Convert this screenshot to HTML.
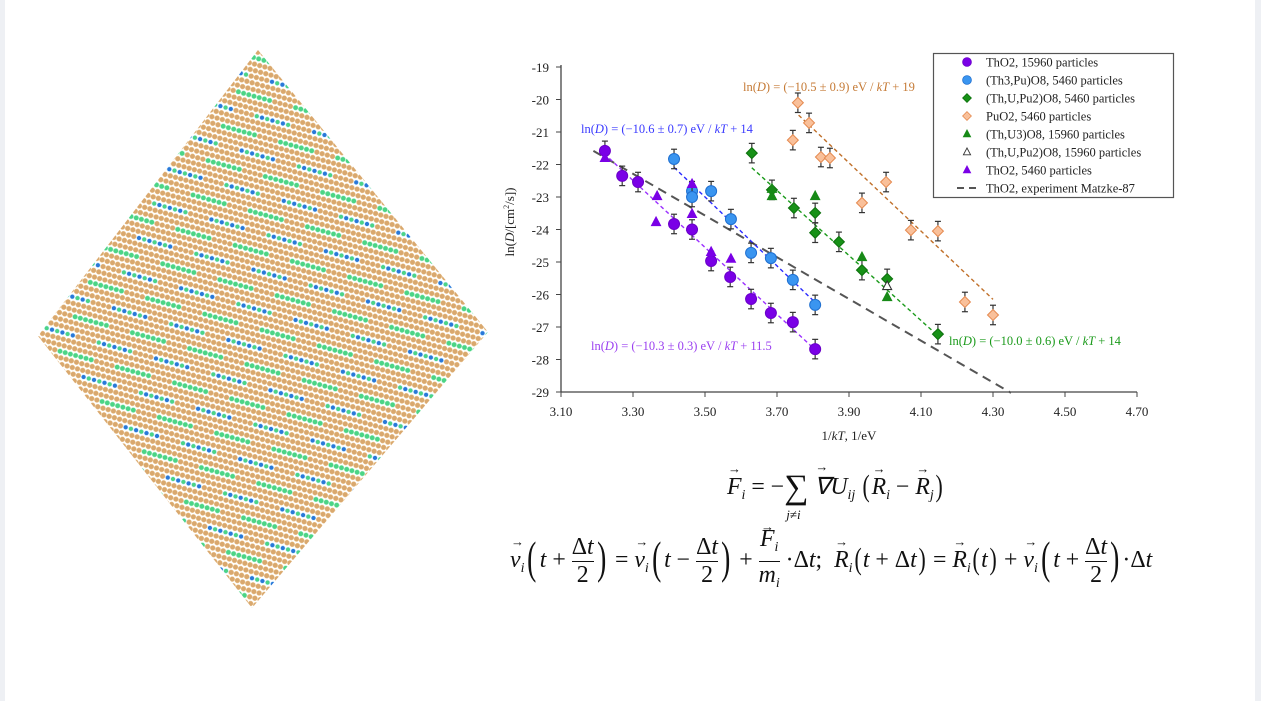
<!DOCTYPE html>
<html><head><meta charset="utf-8"><style>
html,body{margin:0;padding:0;background:#fff;}
body{width:1261px;height:701px;position:relative;overflow:hidden;font-family:"Liberation Serif",serif;}
.frameL{position:absolute;left:0;top:0;width:5px;height:701px;background:#eef0f4;}
.frameR{position:absolute;right:0;top:0;width:6px;height:701px;background:#eef0f4;}
.eq{position:absolute;font-family:"Liberation Serif",serif;font-size:23.8px;color:#111;white-space:nowrap;}
.eq i{font-style:italic;}
.v{position:relative;display:inline-block;font-style:italic;}
.v::after{content:"\2192";position:absolute;left:1px;top:-13px;font-size:13px;font-style:normal;}
.s{font-size:14px;font-style:italic;vertical-align:-5px;}
.fr{display:inline-block;text-align:center;vertical-align:middle;line-height:27px;}
.fr>span{display:block;}
.fr>span:first-child{border-bottom:1px solid #111;}
.bp{font-size:46px;vertical-align:-6px;font-weight:normal;transform:scaleX(0.6);display:inline-block;}
.mp{font-size:31px;vertical-align:-2px;transform:scaleX(0.7);display:inline-block;}
</style></head><body>
<div class="frameL"></div>
<div class="frameR"></div>

<svg id="lattice" width="500" height="640" style="position:absolute;left:0;top:0">
<defs><clipPath id="dia"><polygon points="258,50 488,332 252,608 38,336"/></clipPath></defs>
<g id="atoms" clip-path="url(#dia)"></g>
</svg>

<svg id="chart" width="1261" height="460" style="position:absolute;left:0;top:0">
<g id="plot"></g>
</svg>

<div class="eq" style="left:727px;top:468px;">
<span class="v">F</span><span class="s">i</span> = &minus;<span style="position:relative;display:inline-block;"><span style="font-size:34px;vertical-align:-4px">&sum;</span><span style="position:absolute;left:2px;top:38px;font-size:13px"><i>j</i>&ne;<i>i</i></span></span> <span class="v">&nabla;</span><i>U</i><span class="s">ij</span> <span class="mp">(</span><span class="v">R</span><span class="s">i</span> &minus; <span class="v">R</span><span class="s">j</span><span class="mp">)</span>
</div>
<div class="eq" style="left:510px;top:526px;">
<span class="v">v</span><span class="s">i</span><span class="bp">(</span><i>t</i> + <span class="fr"><span>&Delta;<i>t</i></span><span>2</span></span><span class="bp">)</span> = <span class="v">v</span><span class="s">i</span><span class="bp">(</span><i>t</i> &minus; <span class="fr"><span>&Delta;<i>t</i></span><span>2</span></span><span class="bp">)</span> + <span class="fr"><span><span class="v">F</span><span class="s">i</span></span><span><i>m</i><span class="s">i</span></span></span> &middot;&Delta;<i>t</i>; &nbsp;<span class="v">R</span><span class="s">i</span><span class="mp">(</span><i>t</i> + &Delta;<i>t</i><span class="mp">)</span> = <span class="v">R</span><span class="s">i</span><span class="mp">(</span><i>t</i><span class="mp">)</span> + <span class="v">v</span><span class="s">i</span><span class="bp">(</span><i>t</i> + <span class="fr"><span>&Delta;<i>t</i></span><span>2</span></span><span class="bp">)</span>&middot;&Delta;<i>t</i>
</div>

<script>
// ---- chart data ----
const xTicks = [3.10,3.30,3.50,3.70,3.90,4.10,4.30,4.50,4.70];
const yTicks = [-19,-20,-21,-22,-23,-24,-25,-26,-27,-28,-29];
const thoBigX = [3.222,3.27,3.314,3.414,3.464,3.517,3.57,3.628,3.683,3.744,3.806];
const thoBigY = [-21.58,-22.35,-22.54,-23.83,-24.0,-24.97,-25.46,-26.14,-26.57,-26.85,-27.68];
const thPuX = [3.414,3.464,3.464,3.517,3.572,3.628,3.683,3.744,3.806];
const thPuY = [-21.83,-22.82,-23.0,-22.82,-23.68,-24.72,-24.88,-25.55,-26.32];
const thUPuX = [3.63,3.686,3.747,3.806,3.806,3.872,3.936,4.006,4.147];
const thUPuY = [-21.65,-22.78,-23.34,-23.49,-24.1,-24.38,-25.25,-25.52,-27.22];
const puX = [3.758,3.789,3.744,3.822,3.847,3.936,4.003,4.072,4.147,4.222,4.3];
const puY = [-20.1,-20.72,-21.25,-21.77,-21.8,-23.18,-22.54,-24.02,-24.05,-26.23,-26.63];
const thU3X = [3.686,3.686,3.806,3.936,4.006];
const thU3Y = [-22.75,-22.97,-22.97,-24.85,-26.08];
const thUPuBigX = [4.006];
const thUPuBigY = [-25.74];
const thoSmallX = [3.222,3.367,3.364,3.464,3.464,3.517,3.572];
const thoSmallY = [-21.8,-22.97,-23.77,-23.52,-22.6,-24.69,-24.9];
const errBar = 0.3;
// fit lines: [slope, intercept, xStart, xEnd]
const fitPurple = [-10.3, 11.5, 3.22, 3.81];
const fitBlue = [-10.6, 14.1, 3.414, 3.806];
const fitGreen = [-10.0, 14.2, 3.63, 4.147];
const fitOrange = [-10.5, 19.0, 3.76, 4.3];
const fitMatzke = [-6.42, -1.1, 3.19, 4.35];
const legendLabels = ["ThO2, 15960 particles","(Th3,Pu)O8, 5460 particles","(Th,U,Pu2)O8, 5460 particles","PuO2, 5460 particles","(Th,U3)O8, 15960 particles","(Th,U,Pu2)O8, 15960 particles","ThO2, 5460 particles","ThO2, experiment Matzke-87"];

const NS="http://www.w3.org/2000/svg";
const X0=561,X1=1137,Y0=67,Y1=392;
const sx=v=>X0+(v-3.10)/(4.70-3.10)*(X1-X0);
const sy=v=>Y0+(-19-v)/10*(Y1-Y0);
const plot=document.getElementById('plot');
function mk(tag,attrs,parent){const e=document.createElementNS(NS,tag);for(const k in attrs)e.setAttribute(k,attrs[k]);(parent||plot).appendChild(e);return e;}

let ax=mk('line',{x1:X0,y1:Y0-2,x2:X0,y2:Y1,stroke:'#444','stroke-width':1.3});

let bx=mk('line',{x1:X0,y1:Y1,x2:X1,y2:Y1,stroke:'#444','stroke-width':1.3});

yTicks.forEach(v=>{
  mk('line',{x1:X0-5,y1:sy(v),x2:X0,y2:sy(v),stroke:'#444'});
  const t=mk('text',{x:X0-12,y:sy(v)+5,'text-anchor':'end','font-size':13,fill:'#222'});
  t.textContent=String(v);
  
  
});
xTicks.forEach(v=>{
  mk('line',{x1:sx(v),y1:Y1,x2:sx(v),y2:Y1+5,stroke:'#444'});
  const t=mk('text',{x:sx(v),y:Y1+24,'text-anchor':'middle','font-size':13,fill:'#222'});
  t.textContent=v.toFixed(2);
  
  
});
let xt=mk('text',{x:849,y:440,'text-anchor':'middle','font-size':13,fill:'#222'});
xt.innerHTML='1/<tspan font-style="italic">kT</tspan>, 1/eV';


let yt=mk('text',{x:0,y:0,'text-anchor':'middle','font-size':13,fill:'#222',transform:'translate(514,222) rotate(-90)'});
yt.innerHTML='ln(<tspan font-style="italic">D</tspan>/[cm<tspan font-size="8" dy="-5">2</tspan><tspan dy="5">/s])</tspan>';



function fit(f,col,dash,w,name){
  const l=mk('line',{x1:sx(f[2]),y1:sy(f[0]*f[2]+f[1]),x2:sx(f[3]),y2:sy(f[0]*f[3]+f[1]),stroke:col,'stroke-width':w,'stroke-dasharray':dash});
  
  
}
fit(fitMatzke,'#555','9,6',2,'matzke-line');
fit(fitPurple,'#9b30ff','4,3',1.4,'fit-line-tho2');
fit(fitBlue,'#2b2bff','4,3',1.4,'fit-line-th3pu');
fit(fitGreen,'#1a9a1a','4,3',1.4,'fit-line-thupu2');
fit(fitOrange,'#c0702a','4,3',1.4,'fit-line-puo2');

function marker(type,x,y,fill,stroke,parent){
  let e;
  if(type==='circle') e=mk('circle',{cx:x,cy:y,r:5.5,fill:fill,stroke:stroke,'stroke-width':1},parent);
  else if(type==='diamond') e=mk('polygon',{points:`${x},${y-5.5} ${x+5.5},${y} ${x},${y+5.5} ${x-5.5},${y}`,fill:fill,stroke:stroke,'stroke-width':1},parent);
  else e=mk('polygon',{points:`${x},${y-5} ${x+4.5},${y+3.5} ${x-4.5},${y+3.5}`,fill:fill,stroke:stroke,'stroke-width':1.1},parent);
  return e;
}
function series(xs,ys,type,fill,stroke,err,name){
  xs.forEach((xv,i)=>{
    const px=sx(xv),py=sy(ys[i]);
    if(err){
      const a=sy(ys[i]+errBar),b=sy(ys[i]-errBar);
      mk('line',{x1:px,y1:a,x2:px,y2:b,stroke:'#333','stroke-width':1.2});
      mk('line',{x1:px-3,y1:a,x2:px+3,y2:a,stroke:'#333','stroke-width':1.2});
      mk('line',{x1:px-3,y1:b,x2:px+3,y2:b,stroke:'#333','stroke-width':1.2});
    }
    const m=marker(type,px,py,fill,stroke);
    
    
  });
}
series(thoBigX,thoBigY,'circle','#7a00e6','#6a00c8',true,'point-tho2-15960');
series(thPuX,thPuY,'circle','#3a95f0','#1f6fd0',true,'point-th3puo8');
series(thUPuX,thUPuY,'diamond','#179117','#0d700d',true,'point-thupu2o8-5460');
series(puX,puY,'diamond','#f9c09a','#e58a50',true,'point-puo2');
series(thU3X,thU3Y,'tri','#178a17','#178a17',false,'point-thu3o8');
series(thUPuBigX,thUPuBigY,'tri','#fff','#333',false,'point-thupu2o8-15960');
series(thoSmallX,thoSmallY,'tri','#7a00e6','#7a00e6',false,'point-tho2-5460');

function lab(x,y,col,pre,post,name){
  const t=mk('text',{x:x,y:y,'font-size':12.5,fill:col});
  t.innerHTML=`ln(<tspan font-style="italic">D</tspan>) = (${pre}) eV / <tspan font-style="italic">kT</tspan> + ${post}`;
  
  
}
lab(581,133,'#3a3aff','\u221210.6 \u00b1 0.7','14','fit-label-th3pu');
lab(743,91,'#c57a35','\u221210.5 \u00b1 0.9','19','fit-label-puo2');
lab(591,350,'#9b40f0','\u221210.3 \u00b1 0.3','11.5','fit-label-tho2');
lab(949,345,'#1a9a1a','\u221210.0 \u00b1 0.6','14','fit-label-thupu2');

const lg=mk('g',{});


mk('rect',{x:933.5,y:53.5,width:240,height:144,fill:'#fff',stroke:'#555','stroke-width':1.2},lg);
const lt=[['circle','#7a00e6','#6a00c8'],['circle','#3a95f0','#1f6fd0'],['diamond','#179117','#0d700d'],['diamond','#f9c09a','#e58a50'],['tri','#178a17','#178a17'],['tri','#fff','#333'],['tri','#7a00e6','#7a00e6'],['dash','#555','#555']];
legendLabels.forEach((s,i)=>{
  const y=62+i*18;
  const g=mk('g',{},lg);
  
  
  const d=lt[i];
  if(d[0]==='dash') mk('line',{x1:957,y1:y,x2:977,y2:y,stroke:'#555','stroke-width':2,'stroke-dasharray':'7,5'},g);
  else { const m=marker(d[0],967,y,d[1],d[2],g); m.setAttribute('transform',`translate(${967*0.2},${y*0.2}) scale(0.8)`); }
  const t=mk('text',{x:986,y:y+4.5,'font-size':12.5,fill:'#222'},g);
  t.textContent=s;
});

// ---- decorative atomic lattice ----
const atoms=document.getElementById('atoms');
const ang=15.5*Math.PI/180, ca=Math.cos(ang), sa=Math.sin(ang);
const cx=262, cy=330;
let html='';
for(let k=-70;k<=70;k++){
  const rowType=((k%6)+6)%6;
  for(let j=-80;j<=80;j++){
    const u=j*5.4+(k%2)*2.7, v=k*6.2;
    const x=cx+u*ca-v*sa, y=cy+u*sa+v*ca;
    if(x<30||x>495||y<45||y>612) continue;
    let fill='#d9a86e', hl='#ecc894';
    const seg=(((j+k*2)%11)+11)%11;
    let r=2.5;
    if(rowType===0 && seg<7){fill='#4cd486';hl='#b0f0c8';}
    else if(rowType===3 && seg<7){fill=(j%2===0)?'#2a78d8':'#4cd486';hl='#c0e8ff';r=2.3;}
    html+=`<circle cx="${x.toFixed(1)}" cy="${y.toFixed(1)}" r="${r}" fill="${fill}" stroke="${hl}" stroke-width="0.5"/>`;
  }
}
atoms.innerHTML=html;
</script>
</body></html>
